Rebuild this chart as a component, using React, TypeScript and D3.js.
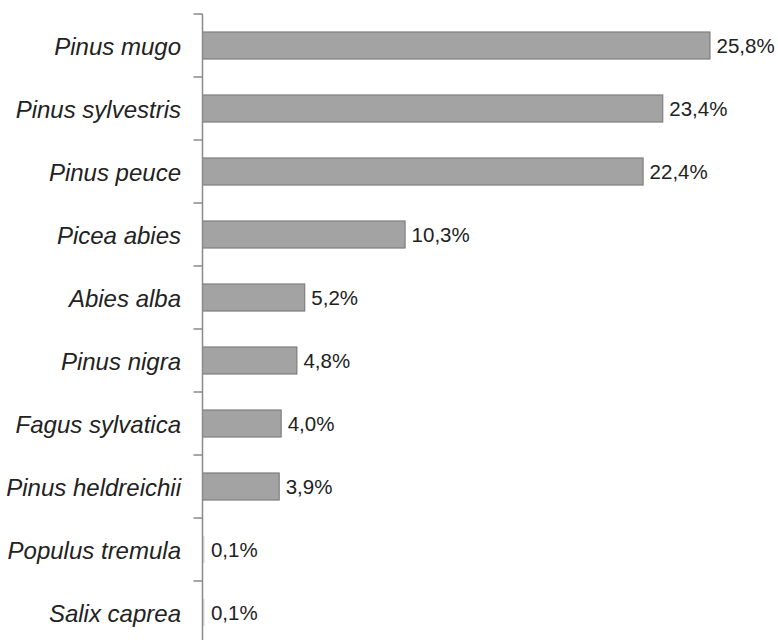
import React from "react";
import * as d3 from "d3";

const categories = [
  "Pinus mugo",
  "Pinus sylvestris",
  "Pinus peuce",
  "Picea abies",
  "Abies alba",
  "Pinus nigra",
  "Fagus sylvatica",
  "Pinus heldreichii",
  "Populus tremula",
  "Salix caprea",
];
const values = [25.8, 23.4, 22.4, 10.3, 5.2, 4.8, 4.0, 3.9, 0.1, 0.1];
const valueLabels = ["25,8%", "23,4%", "22,4%", "10,3%", "5,2%", "4,8%", "4,0%", "3,9%", "0,1%", "0,1%"];

export default function App() {
  const W = 778;
  const H = 640;
  const axisX = 202.5;
  const x = d3.scaleLinear().domain([0, 25.8]).range([axisX, 710]);
  const y = d3
    .scaleBand<string>()
    .domain(categories)
    .range([14, 644])
    .paddingInner(0.57)
    .paddingOuter(0.285);
  const step = y.step();
  const boundaries = d3.range(categories.length + 1).map((i) => 14 + i * step);

  return (
    <svg
      width={W}
      height={H}
      style={{ position: "absolute", left: 0, top: 0, background: "#fff" }}
      fontFamily="'Liberation Sans', Arial, sans-serif"
    >
      <g>
        {categories.map((c, i) => {
          const yy = y(c)!;
          const w = x(values[i]) - x(0);
          const tiny = w < 3;
          return (
            <g key={c}>
              <rect
                x={axisX}
                y={yy}
                width={Math.max(w, 0)}
                height={y.bandwidth()}
                fill={tiny ? "#dcdcdc" : "#a3a3a3"}
                stroke={tiny ? "none" : "#737373"}
                strokeWidth={1}
              />
              <text
                x={x(values[i]) + 6.5}
                y={yy + y.bandwidth() / 2}
                dy="0.36em"
                fontSize={20.5}
                fill="#222"
              >
                {valueLabels[i]}
              </text>
              <text
                x={181}
                y={yy + y.bandwidth() / 2}
                dy="0.4em"
                fontSize={24}
                fontStyle="italic"
                textAnchor="end"
                fill="#222"
              >
                {c}
              </text>
            </g>
          );
        })}
      </g>
      <line x1={axisX} x2={axisX} y1={14} y2={644} stroke="#8a8a8a" strokeWidth={1.5} />
      {boundaries.map((b, i) => (
        <line key={i} x1={axisX - 9} x2={axisX} y1={b} y2={b} stroke="#8a8a8a" strokeWidth={1.5} />
      ))}
    </svg>
  );
}
